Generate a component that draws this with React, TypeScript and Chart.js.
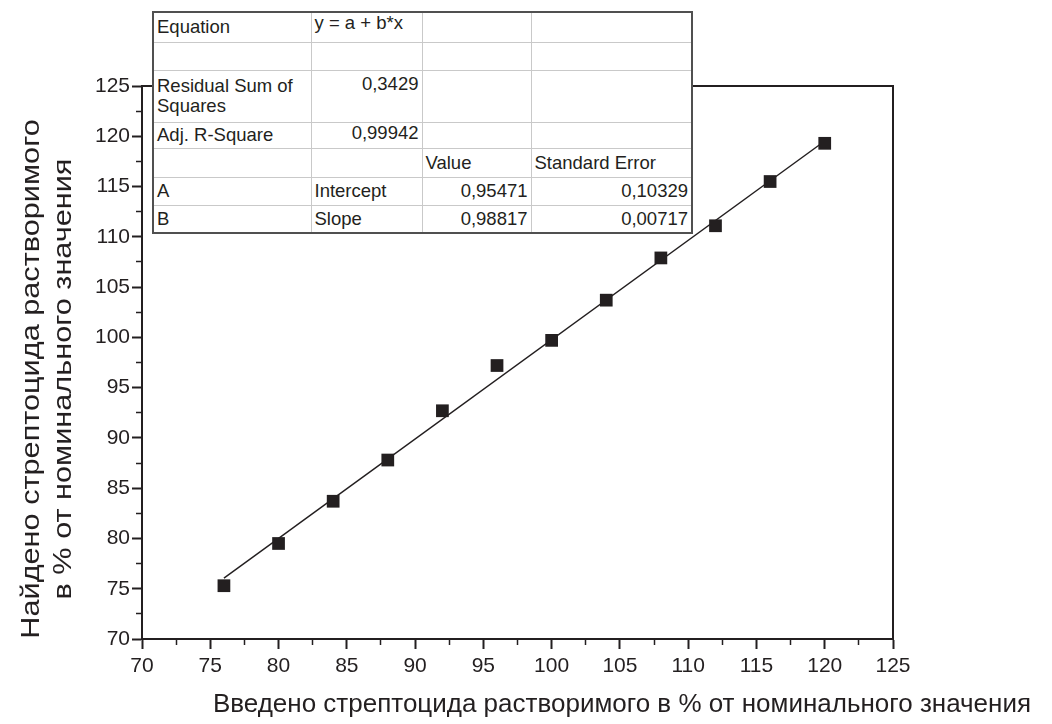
import React, { useEffect, useRef } from "react";
import { Chart, registerables } from "chart.js";

Chart.register(...registerables);

// ---- data ----
const xValues = [76, 80, 84, 88, 92, 96, 100, 104, 108, 112, 116, 120];
const yValues = [75.3, 79.5, 83.7, 87.8, 92.7, 97.2, 99.7, 103.7, 107.9, 111.1, 115.5, 119.3];
const fitX = [76, 120];
const fitY = [76.05, 119.53];
const axisMin = 70;
const axisMax = 125;
const majorStep = 5;
const minorStep = 2.5;
const xTitle = "Введено стрептоцида растворимого в % от номинального значения";
const yTitleLines = ["Найдено стрептоцида растворимого", "в % от номинального значения"];
const tableRows = [
  ["Equation", "y = a + b*x", "", ""],
  ["", "", "", ""],
  ["Residual Sum of Squares", "0,3429", "", ""],
  ["Adj. R-Square", "0,99942", "", ""],
  ["", "", "Value", "Standard Error"],
  ["A", "Intercept", "0,95471", "0,10329"],
  ["B", "Slope", "0,98817", "0,00717"],
];

// ---- styles ----
const INK = "#231f20";
const FONT = "'Liberation Sans', Arial, Helvetica, sans-serif";
const colWidths = [158, 111, 109, 161];
const rowHeights = [30, 28, 52, 26, 29, 28, 28];
// cells whose text sits at the top of the cell (row, col) -> top padding
const topCells: Record<string, number> = { "0,1": 0, "2,1": 3, "3,1": 0 };

const isMajor = (v: number) => Math.abs(v / majorStep - Math.round(v / majorStep)) < 1e-6;

function scaleOptions(horizontal: boolean) {
  return {
    type: "linear" as const,
    min: axisMin,
    max: axisMax,
    ticks: {
      stepSize: minorStep,
      autoSkip: false,
      maxRotation: 0,
      minRotation: 0,
      padding: horizontal ? 5 : 2,
      color: INK,
      font: { family: FONT, size: 21 },
      callback: (v: any) => (isMajor(Number(v)) ? String(v) : ""),
    },
    grid: {
      drawOnChartArea: false,
      drawTicks: true,
      tickLength: 10,
      tickColor: INK,
      tickWidth: (ctx: any) => (ctx.tick && isMajor(ctx.tick.value) ? 2 : 1.5),
      tickBorderDash: (ctx: any) =>
        ctx.tick && isMajor(ctx.tick.value) ? [] : horizontal ? [5, 100] : [0, 4, 5, 100],
    },
    border: { display: true, color: INK, width: 2 },
    afterFit: (scale: any) => {
      if (horizontal) scale.height = 85;
      else scale.width = 142;
    },
  };
}

const framePlugin = {
  id: "frame",
  beforeDatasetsDraw(chart: any) {
    const { ctx, chartArea } = chart;
    ctx.save();
    ctx.strokeStyle = INK;
    ctx.lineWidth = 2;
    ctx.beginPath();
    ctx.moveTo(chartArea.left, chartArea.top);
    ctx.lineTo(chartArea.right, chartArea.top);
    ctx.lineTo(chartArea.right, chartArea.bottom);
    ctx.stroke();
    ctx.restore();
  },
};

export default function App() {
  const ref = useRef<HTMLCanvasElement>(null);

  useEffect(() => {
    if (!ref.current) return;
    const chart = new Chart(ref.current, {
      type: "scatter",
      data: {
        datasets: [
          {
            label: "data",
            data: xValues.map((x, i) => ({ x, y: yValues[i] })),
            pointStyle: "rect",
            pointRadius: 9,
            backgroundColor: INK,
            borderWidth: 0,
            showLine: false,
            order: 0,
          },
          {
            label: "fit",
            data: fitX.map((x, i) => ({ x, y: fitY[i] })),
            showLine: true,
            borderColor: INK,
            borderWidth: 1.5,
            pointRadius: 0,
            order: 1,
          } as any,
        ],
      },
      options: {
        animation: false,
        responsive: false,
        maintainAspectRatio: false,
        devicePixelRatio: 1,
        layout: { padding: { left: 0, top: 86, right: 159, bottom: 0 } },
        plugins: { legend: { display: false }, tooltip: { enabled: false } },
        scales: {
          x: { ...scaleOptions(true), position: "bottom" },
          y: { ...scaleOptions(false), position: "left" },
        } as any,
      },
      plugins: [framePlugin],
    });
    return () => chart.destroy();
  }, []);

  const cellStyle = (r: number, c: number, text: string): React.CSSProperties => {
    const numeric = /^[\d,]+$/.test(text);
    const key = `${r},${c}`;
    const top = key in topCells;
    return {
      border: "1px solid #c9c9c9",
      padding: "0 3px",
      textAlign: numeric ? "right" : "left",
      verticalAlign: top ? "top" : "middle",
      paddingTop: top ? topCells[key] : 0,
      lineHeight: "20px",
      overflow: "hidden",
      whiteSpace: "normal",
    };
  };

  return (
    <div
      style={{
        position: "absolute",
        left: 0,
        top: 0,
        width: 1052,
        height: 724,
        background: "#fff",
        fontFamily: FONT,
        color: INK,
      }}
    >
      <canvas
        ref={ref}
        width={1052}
        height={724}
        style={{ position: "absolute", left: 0, top: 0, width: 1052, height: 724 }}
      />
      <table
        style={{
          position: "absolute",
          left: 152,
          top: 11,
          width: 539,
          borderCollapse: "collapse",
          tableLayout: "fixed",
          background: "#fff",
          border: "2px solid #505050",
          fontSize: 18.5,
          fontFamily: FONT,
          color: INK,
        }}
      >
        <colgroup>
          {colWidths.map((w, i) => (
            <col key={i} style={{ width: w }} />
          ))}
        </colgroup>
        <tbody>
          {tableRows.map((row, r) => (
            <tr key={r} style={{ height: rowHeights[r] }}>
              {row.map((t, c) => (
                <td key={c} style={cellStyle(r, c, t)}>
                  {t}
                </td>
              ))}
            </tr>
          ))}
        </tbody>
      </table>
      <div
        style={{
          position: "absolute",
          left: 622,
          top: 703,
          transform: "translate(-50%, -50%)",
          whiteSpace: "nowrap",
          fontSize: 26,
          lineHeight: "30px",
        }}
      >
        {xTitle}
      </div>
      <div
        style={{
          position: "absolute",
          left: 46,
          top: 379,
          width: 600,
          height: 64,
          transform: "translate(-50%, -50%) rotate(-90deg) scaleX(1.18)",
          textAlign: "center",
          whiteSpace: "nowrap",
          fontSize: 26,
          lineHeight: "32px",
        }}
      >
        {yTitleLines.map((l, i) => (
          <div key={i}>{l}</div>
        ))}
      </div>
    </div>
  );
}
